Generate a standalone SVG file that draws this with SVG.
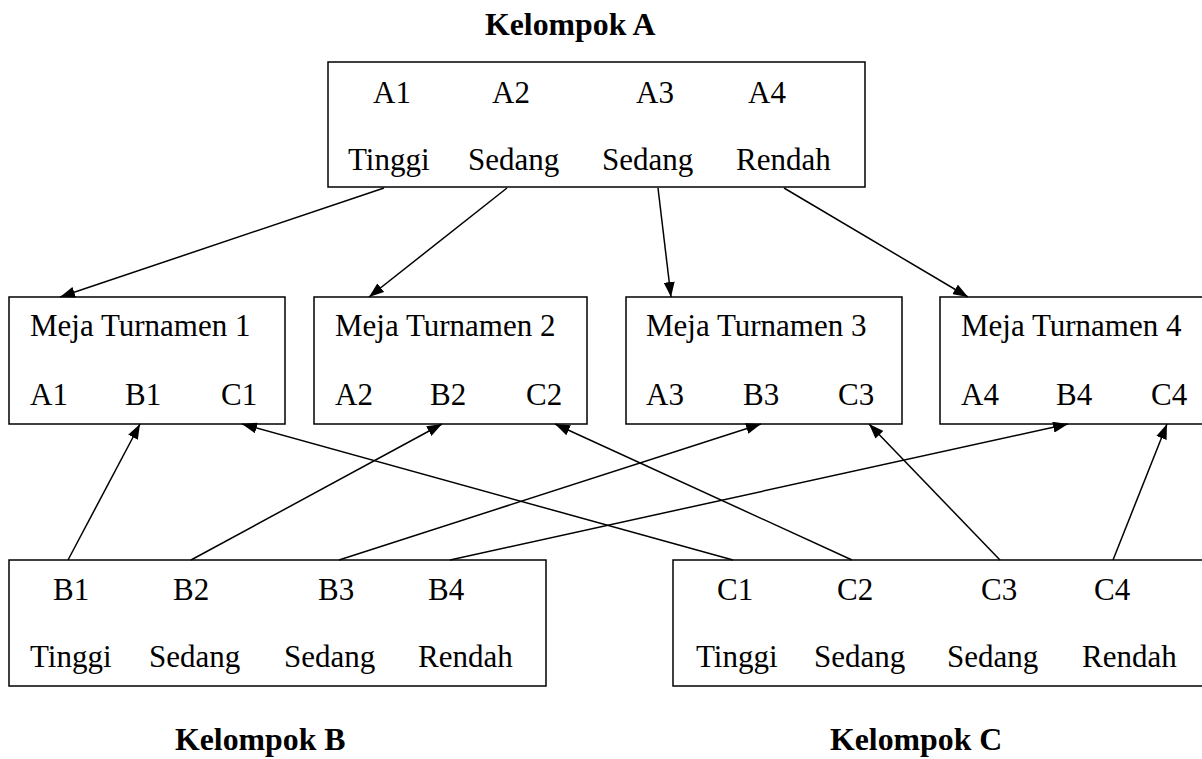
<svg xmlns="http://www.w3.org/2000/svg" width="1202" height="759" viewBox="0 0 1202 759">
<style>
.box{fill:#fff;stroke:#000;stroke-width:1.5}
.t{font-family:"Liberation Serif","Times New Roman",serif;font-size:31px;fill:#000}
.h{font-family:"Liberation Serif","Times New Roman",serif;font-size:31.8px;font-weight:bold;fill:#000}
.c line{stroke:#000;stroke-width:1.5;marker-end:url(#ah)}
</style>
<defs>
<marker id="ah" viewBox="0 0 15 11" refX="15" refY="5.5" markerWidth="15" markerHeight="11" markerUnits="userSpaceOnUse" orient="auto">
<path d="M0,0 L15,5.5 L0,11 Z" fill="#000"/>
</marker>
</defs>
<rect width="1202" height="759" fill="#fff"/>
<text class="h" x="485" y="35">Kelompok A</text>
<text class="h" x="175" y="750">Kelompok B</text>
<text class="h" x="830" y="750">Kelompok C</text>
<g id="groupA">
<rect class="box" x="328" y="62" width="537" height="125"/>
<text class="t" x="373" y="103">A1</text>
<text class="t" x="492" y="103">A2</text>
<text class="t" x="636" y="103">A3</text>
<text class="t" x="748" y="103">A4</text>
<text class="t" x="348" y="170">Tinggi</text>
<text class="t" x="468" y="170">Sedang</text>
<text class="t" x="602" y="170">Sedang</text>
<text class="t" x="736" y="170">Rendah</text>
</g>
<g id="meja1">
<rect class="box" x="9" y="297" width="276" height="127"/>
<text class="t" x="30" y="336">Meja Turnamen 1</text>
<text class="t" x="30" y="405">A1</text>
<text class="t" x="125" y="405">B1</text>
<text class="t" x="221" y="405">C1</text>
</g>
<g id="meja2">
<rect class="box" x="314" y="297" width="273" height="127"/>
<text class="t" x="335" y="336">Meja Turnamen 2</text>
<text class="t" x="335" y="405">A2</text>
<text class="t" x="430" y="405">B2</text>
<text class="t" x="526" y="405">C2</text>
</g>
<g id="meja3">
<rect class="box" x="626" y="297" width="276" height="127"/>
<text class="t" x="646" y="336">Meja Turnamen 3</text>
<text class="t" x="646" y="405">A3</text>
<text class="t" x="743" y="405">B3</text>
<text class="t" x="838" y="405">C3</text>
</g>
<g id="meja4">
<rect class="box" x="940" y="297" width="280" height="127"/>
<text class="t" x="961" y="336">Meja Turnamen 4</text>
<text class="t" x="961" y="405">A4</text>
<text class="t" x="1056" y="405">B4</text>
<text class="t" x="1151" y="405">C4</text>
</g>
<g id="groupB">
<rect class="box" x="9" y="560" width="537" height="126"/>
<text class="t" x="53" y="600">B1</text>
<text class="t" x="173" y="600">B2</text>
<text class="t" x="318" y="600">B3</text>
<text class="t" x="428" y="600">B4</text>
<text class="t" x="30" y="667">Tinggi</text>
<text class="t" x="149" y="667">Sedang</text>
<text class="t" x="284" y="667">Sedang</text>
<text class="t" x="418" y="667">Rendah</text>
</g>
<g id="groupC">
<rect class="box" x="673" y="560" width="540" height="126"/>
<text class="t" x="717" y="600">C1</text>
<text class="t" x="837" y="600">C2</text>
<text class="t" x="981" y="600">C3</text>
<text class="t" x="1094" y="600">C4</text>
<text class="t" x="696" y="667">Tinggi</text>
<text class="t" x="814" y="667">Sedang</text>
<text class="t" x="947" y="667">Sedang</text>
<text class="t" x="1082" y="667">Rendah</text>
</g>
<g id="connectors" class="c">
<line x1="384" y1="188" x2="60" y2="297"/>
<line x1="507" y1="188" x2="369" y2="297"/>
<line x1="658" y1="188" x2="671" y2="297"/>
<line x1="784" y1="188" x2="968" y2="297"/>
<line x1="68" y1="560" x2="140" y2="424"/>
<line x1="191" y1="560" x2="442" y2="424"/>
<line x1="339" y1="560" x2="761" y2="424"/>
<line x1="450" y1="560" x2="1068" y2="424"/>
<line x1="733" y1="560" x2="242" y2="424"/>
<line x1="852" y1="560" x2="555" y2="424"/>
<line x1="1000" y1="560" x2="869" y2="424"/>
<line x1="1113" y1="560" x2="1167" y2="424"/>
</g>
</svg>
